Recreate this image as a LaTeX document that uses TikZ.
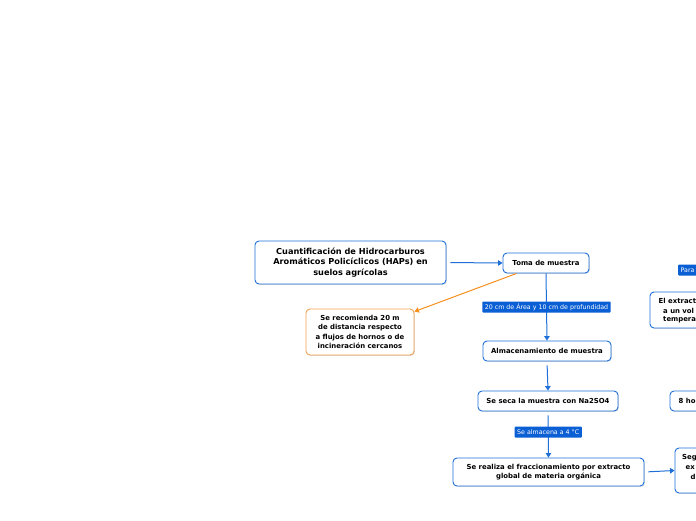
\documentclass[tikz,border=0pt]{standalone}
\usepackage{fontspec}
\setmainfont{DejaVu Sans}
\usetikzlibrary{arrows.meta,shadows}
\definecolor{cblue}{HTML}{1F6FD8}
\definecolor{lblue}{HTML}{0B5FD4}
\definecolor{corange}{HTML}{F7901E}
\definecolor{borange}{HTML}{F4A04E}
\tikzset{
  box/.style={draw=cblue, line width=0.9pt, rounded corners=4pt, fill=white,
    font=\bfseries\fontsize{6.9}{9.3}\selectfont, align=center, inner sep=0pt,
    drop shadow={shadow xshift=0.8pt, shadow yshift=-0.8pt, fill=black!30, opacity=0.5}},
  obox/.style={box, draw=borange},
  lab/.style={fill=lblue, text=white, font=\fontsize{6.3}{7}\selectfont,
    inner xsep=2.5pt, inner ysep=0pt, minimum height=11, rounded corners=0.8pt},
  labt/.style={text=white, font=\fontsize{6.3}{7}\selectfont, inner sep=0pt, anchor=west},
  bt/.style={font=\bfseries\fontsize{6.9}{9.3}\selectfont, inner sep=0pt, anchor=west},
  conn/.style={draw=cblue, line width=1pt, -{Triangle[length=4.5pt,width=5.5pt]}},
  oconn/.style={draw=corange, line width=1pt, -{Triangle[length=4.5pt,width=5.5pt]}},
}
\begin{document}
\begin{tikzpicture}[x=1pt,y=-1pt]
\useasboundingbox (0,0) rectangle (696,520);
\clip (0,0) rectangle (696,520);

% main column
\node[box, minimum width=191, minimum height=43,
  font=\bfseries\fontsize{8.2}{10.6}\selectfont] (title) at (350.5,262.5)
  {Cuantificación de Hidrocarburos\\Aromáticos Policíclicos (HAPs) en\\suelos agrícolas};
\node[box, minimum width=86, minimum height=20] (toma) at (546,263) {Toma de muestra};
\node[obox, minimum width=108, minimum height=46] (rec) at (360,332)
  {Se recomienda 20 m\\de distancia respecto\\a flujos de hornos o de\\incineración cercanos};
\node[box, minimum width=128, minimum height=20] (alm) at (547,351) {Almacenamiento de muestra};
\node[box, minimum width=140, minimum height=20] (seca) at (548,401) {Se seca la muestra con Na2SO4};
\node[box, minimum width=191, minimum height=28] (frac) at (548.5,472)
  {Se realiza el fraccionamiento por extracto\\global de materia orgánica};

% right side (cut off by the page edge)
\node[box, minimum width=70, minimum height=45] (seg) at (710,470.5) {};
\node[bt] (segt1) at (682,457.5) {Seg};
\node[bt] (segt2) at (685.5,467.5) {ex};
\node[bt] (segt3) at (690.5,477) {d};
\node[lab, anchor=west, minimum width=30] (para) at (678,270) {};
\node[labt] (parat) at (680.5,270) {Para};
\node[box, minimum width=80, minimum height=36] (ext) at (690,310) {};
\node[bt] (extt1) at (658.5,301) {El extract};
\node[bt] (extt2) at (663,310.5) {a un vol};
\node[bt] (extt3) at (663,320) {tempera};
\node[box, minimum width=60, minimum height=20] (ocho) at (700,401) {};
\node[bt] (ochot) at (678.5,401) {8 ho};

% connectors
\draw[conn, shorten <=4pt] (title.east) -- (toma.west);
\draw[oconn] ([xshift=14pt]toma.south west) -- ([yshift=-3pt]rec.north east);
\draw[conn] (toma.south) -- (alm.north)
  node[lab, midway] (l1) {20 cm de Área y 10 cm de profundidad};
\draw[conn, shorten <=4pt] (alm.south) -- (seca.north);
\draw[conn, shorten <=4pt] (seca.south) -- (frac.north)
  node[lab, pos=0.45] (l2) {Se almacena a 4 °C};
\draw[conn, shorten <=4pt] (frac.east) -- (seg.west);
\end{tikzpicture}
\end{document}
